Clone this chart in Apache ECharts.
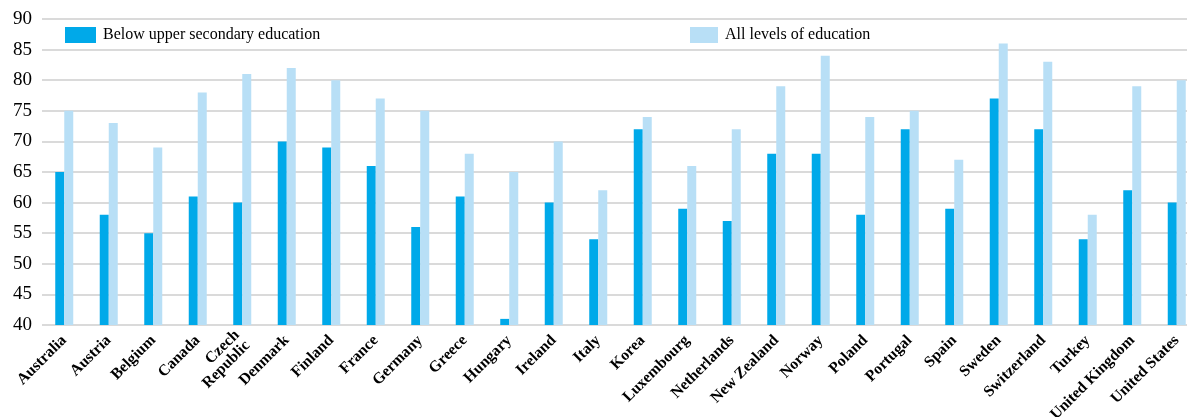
<!DOCTYPE html>
<html>
<head>
<meta charset="utf-8">
<script src="https://cdn.jsdelivr.net/npm/echarts@6/dist/echarts.min.js"></script>
<style>html,body{margin:0;padding:0;background:#fff}#c{width:1187px;height:417px}</style>
</head>
<body>
<div id="c"></div>
<script>
const categories = ["Australia","Austria","Belgium","Canada","Czech\nRepublic","Denmark","Finland","France","Germany","Greece","Hungary","Ireland","Italy","Korea","Luxembourg","Netherlands","New Zealand","Norway","Poland","Portugal","Spain","Sweden","Switzerland","Turkey","United Kingdom","United States"];
const belowUpperSecondary = [65,58,55,61,60,70,69,66,56,61,41,60,54,72,59,57,68,68,58,72,59,77,72,54,62,60];
const allLevels = [75,73,69,78,81,82,80,77,75,68,65,70,62,74,66,72,79,84,74,75,67,86,83,58,79,80];
const seriesNames = ["Below upper secondary education","All levels of education"];
const yTicks = {min:40, max:90, interval:5};

const chart = echarts.init(document.getElementById('c'));
const font = '"Liberation Serif", "Times New Roman", serif';
chart.setOption({
  animation:false,
  textStyle:{fontFamily:font},
  legend:[
    {data:[seriesNames[0]], icon:'rect', left:60, top:22, itemWidth:31, itemHeight:16, itemGap:0, textStyle:{fontFamily:font, fontSize:16, color:'#000', padding:[0,0,0,2]}},
    {data:[seriesNames[1]], icon:'rect', left:685, top:22, itemWidth:28, itemHeight:16, itemGap:0, textStyle:{fontFamily:font, fontSize:16, color:'#000', padding:[0,0,0,2]}}
  ],
  grid:{left:42, top:19, right:-12, bottom:92, containLabel:false, outerBoundsMode:'none'},
  xAxis:{
    type:'category', data:categories,
    axisLine:{show:false}, axisTick:{show:false},
    axisLabel:{interval:0, rotate:45, fontFamily:font, fontWeight:'bold', fontSize:15.7, color:'#000', margin:13, lineHeight:15}
  },
  yAxis:{
    type:'value', min:yTicks.min, max:yTicks.max, interval:yTicks.interval,
    axisLine:{show:false}, axisTick:{show:false},
    axisLabel:{fontFamily:font, fontSize:19, color:'#000', margin:10},
    splitLine:{lineStyle:{color:'#dadada', width:2}}
  },
  series:[
    {name:seriesNames[0], type:'bar', data:belowUpperSecondary, barWidth:9, barGap:'0%', itemStyle:{color:'#00a9e9'}},
    {name:seriesNames[1], type:'bar', data:allLevels, barWidth:9, barGap:'0%', itemStyle:{color:'#b8dff6'}}
  ]
});
</script>
</body>
</html>
